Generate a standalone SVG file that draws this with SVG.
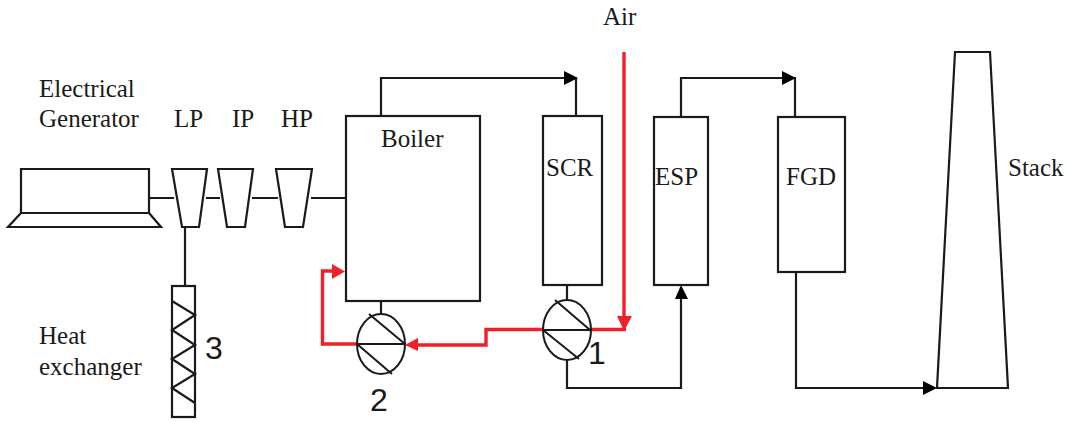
<svg xmlns="http://www.w3.org/2000/svg" width="1066" height="422" viewBox="0 0 1066 422">
<style>
.s{fill:none;stroke:#1a1a1a;stroke-width:2.2;stroke-linejoin:miter}
.p{fill:none;stroke:#1a1a1a;stroke-width:2}
.r{fill:none;stroke:#f0202a;stroke-width:3.4;stroke-linejoin:miter}
.h{fill:#000}
.hr{fill:#f0202a}
text{font-family:"Liberation Serif","Times New Roman",serif;font-size:25px;fill:#1a1a1a}
.n{font-family:"Liberation Sans",Arial,sans-serif;font-size:32px}
</style>
<rect width="1066" height="422" fill="#fff"/>
<g id="connectors">
<path class="s" d="M149 198H174M206 198H220M252 198H278M311 198H345"/>
<path class="s" d="M185 227V286"/>
<path class="s" d="M381 116V78H576M576 116V78"/>
<polygon class="h" points="578,78 564,71 564,85"/>
<path class="s" d="M681 117V78H795V117"/>
<polygon class="h" points="796,78 782,71 782,85"/>
<path class="s" d="M567 285V300M381 301V314"/>
<path class="s" d="M567 360V388H681V298"/>
<polygon class="h" points="681,285 675,299 688,299"/>
<path class="s" d="M796 272V388H925"/>
<polygon class="h" points="937,388 923,381 923,395"/>
<path class="r" d="M624 52V320"/>
<polygon class="hr" points="624,331 617,316 632,316"/>
<path class="r" d="M626 329.500H591M543 329.500H486V345H415"/>
<polygon class="hr" points="405,345 418,338 418,351"/>
<path class="r" d="M357 344H322.500V271H335"/>
<polygon class="hr" points="345,271.500 332,264 332,279"/>
</g>
<g id="generator"><path class="s" d="M21 169H149V213H21ZM21 213L8 227H161L149 213"/></g>
<g id="lp"><polygon class="s" points="172,169 207,169 199,227 182,227"/></g>
<g id="ip"><polygon class="s" points="218,169 253,169 245,227 227,227"/></g>
<g id="hp"><polygon class="s" points="276,169 312,169 303,227 285,227"/></g>
<g id="heat-exchanger"><rect class="s" x="172" y="286" width="23" height="131"/><path class="s" d="M172 301L195 315L172 330L195 345L172 359L195 374L172 388L195 403"/></g>
<g id="boiler"><rect class="s" x="346" y="116" width="134" height="185"/></g>
<g id="scr"><rect class="s" x="543" y="116" width="59" height="169"/></g>
<g id="esp"><rect class="s" x="654" y="117" width="54" height="168"/></g>
<g id="fgd"><rect class="s" x="778" y="117" width="67" height="155"/></g>
<g id="stack"><polygon class="s" points="955,52 990,52 1008,388 937,388"/></g>
<g id="pump-1"><ellipse class="p" cx="567" cy="330" rx="24" ry="30"/><path class="p" d="M555 300L590 330M543 330H591M543 330L579 359"/></g>
<g id="pump-2"><ellipse class="p" cx="381" cy="344" rx="24" ry="30"/><path class="p" d="M369 314L405 344M357 344H405M357 344L392 374"/></g>
<g id="labels">
<text x="39" y="97">Electrical</text>
<text x="39" y="127">Generator</text>
<text x="174" y="127">LP</text>
<text x="232" y="127">IP</text>
<text x="281" y="127">HP</text>
<text x="381" y="147">Boiler</text>
<text x="546" y="176">SCR</text>
<text x="655" y="185">ESP</text>
<text x="786" y="185">FGD</text>
<text x="1008" y="176">Stack</text>
<text x="603" y="25">Air</text>
<text x="39" y="344">Heat</text>
<text x="39" y="375">exchanger</text>
<text class="n" x="205" y="359">3</text>
<text class="n" x="370" y="411">2</text>
<text class="n" x="588" y="364">1</text>
</g>
</svg>
